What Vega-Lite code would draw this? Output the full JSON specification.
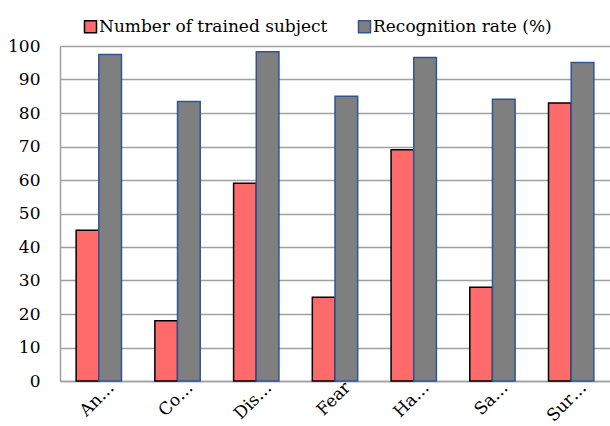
{
  "$schema": "https://vega.github.io/schema/vega-lite/v6.json",
  "width": 550,
  "height": 335,
  "autosize": {"type": "none"},
  "padding": {"left": 60, "top": 46, "right": 0, "bottom": 45},
  "background": "white",
  "data": {
    "values": [
      {"emotion": "Anger", "series": "Number of trained subject", "value": 45},
      {"emotion": "Anger", "series": "Recognition rate (%)", "value": 97.5},
      {"emotion": "Contempt", "series": "Number of trained subject", "value": 18},
      {"emotion": "Contempt", "series": "Recognition rate (%)", "value": 83.4},
      {"emotion": "Disgust", "series": "Number of trained subject", "value": 59},
      {"emotion": "Disgust", "series": "Recognition rate (%)", "value": 98.3},
      {"emotion": "Fear", "series": "Number of trained subject", "value": 25},
      {"emotion": "Fear", "series": "Recognition rate (%)", "value": 85},
      {"emotion": "Happy", "series": "Number of trained subject", "value": 69},
      {"emotion": "Happy", "series": "Recognition rate (%)", "value": 96.6},
      {"emotion": "Sadness", "series": "Number of trained subject", "value": 28},
      {"emotion": "Sadness", "series": "Recognition rate (%)", "value": 84.1},
      {"emotion": "Surprise", "series": "Number of trained subject", "value": 83},
      {"emotion": "Surprise", "series": "Recognition rate (%)", "value": 95.1}
    ]
  },
  "mark": {"type": "bar", "strokeWidth": 1.5},
  "encoding": {
    "x": {
      "field": "emotion",
      "type": "nominal",
      "sort": null,
      "scale": {"paddingInner": 0.424, "paddingOuter": 0.205},
      "axis": {
        "title": null,
        "labelAngle": -45,
        "labelAlign": "right",
        "labelBaseline": "top",
        "labelFont": "DejaVu Serif",
        "labelFontSize": 17,
        "labelColor": "black",
        "labelPadding": -2,
        "labelOffset": 7,
        "ticks": false,
        "tickSize": 0,
        "domainColor": "#a0a0a0",
        "domainWidth": 1.5,
        "labelExpr": "{'Anger':'An…','Contempt':'Co…','Disgust':'Dis…','Fear':'Fear','Happy':'Ha…','Sadness':'Sa…','Surprise':'Sur…'}[datum.label]"
      }
    },
    "xOffset": {"field": "series", "type": "nominal"},
    "y": {
      "field": "value",
      "type": "quantitative",
      "scale": {"domain": [0, 100], "nice": false},
      "axis": {
        "title": null,
        "values": [0, 10, 20, 30, 40, 50, 60, 70, 80, 90, 100],
        "labelFont": "DejaVu Serif",
        "labelFontSize": 17,
        "labelColor": "black",
        "labelPadding": 20,
        "ticks": false,
        "tickSize": 0,
        "domainColor": "#a0a0a0",
        "domainWidth": 1.5,
        "grid": true,
        "gridColor": "#a0a0a0",
        "gridWidth": 1.5
      }
    },
    "color": {
      "field": "series",
      "type": "nominal",
      "scale": {"range": ["#ff6b6b", "#7f7f7f"]},
      "legend": {
        "title": null,
        "orient": "none",
        "direction": "horizontal",
        "legendX": 22,
        "legendY": -28,
        "padding": 0,
        "symbolType": "square",
        "symbolSize": 144,
        "symbolStrokeWidth": 1.5,
        "labelFont": "DejaVu Serif",
        "labelFontSize": 17,
        "labelColor": "black",
        "labelOffset": 0,
        "labelLimit": 400,
        "columnPadding": 27
      }
    },
    "stroke": {
      "field": "series",
      "type": "nominal",
      "scale": {"range": ["#000000", "#2f5597"]},
      "legend": {
        "title": null,
        "orient": "none",
        "direction": "horizontal",
        "legendX": 22,
        "legendY": -28,
        "padding": 0,
        "symbolType": "square",
        "symbolSize": 144,
        "symbolStrokeWidth": 1.5,
        "labelFont": "DejaVu Serif",
        "labelFontSize": 17,
        "labelColor": "black",
        "labelOffset": 0,
        "labelLimit": 400,
        "columnPadding": 27
      }
    }
  },
  "config": {"view": {"stroke": null}}
}
